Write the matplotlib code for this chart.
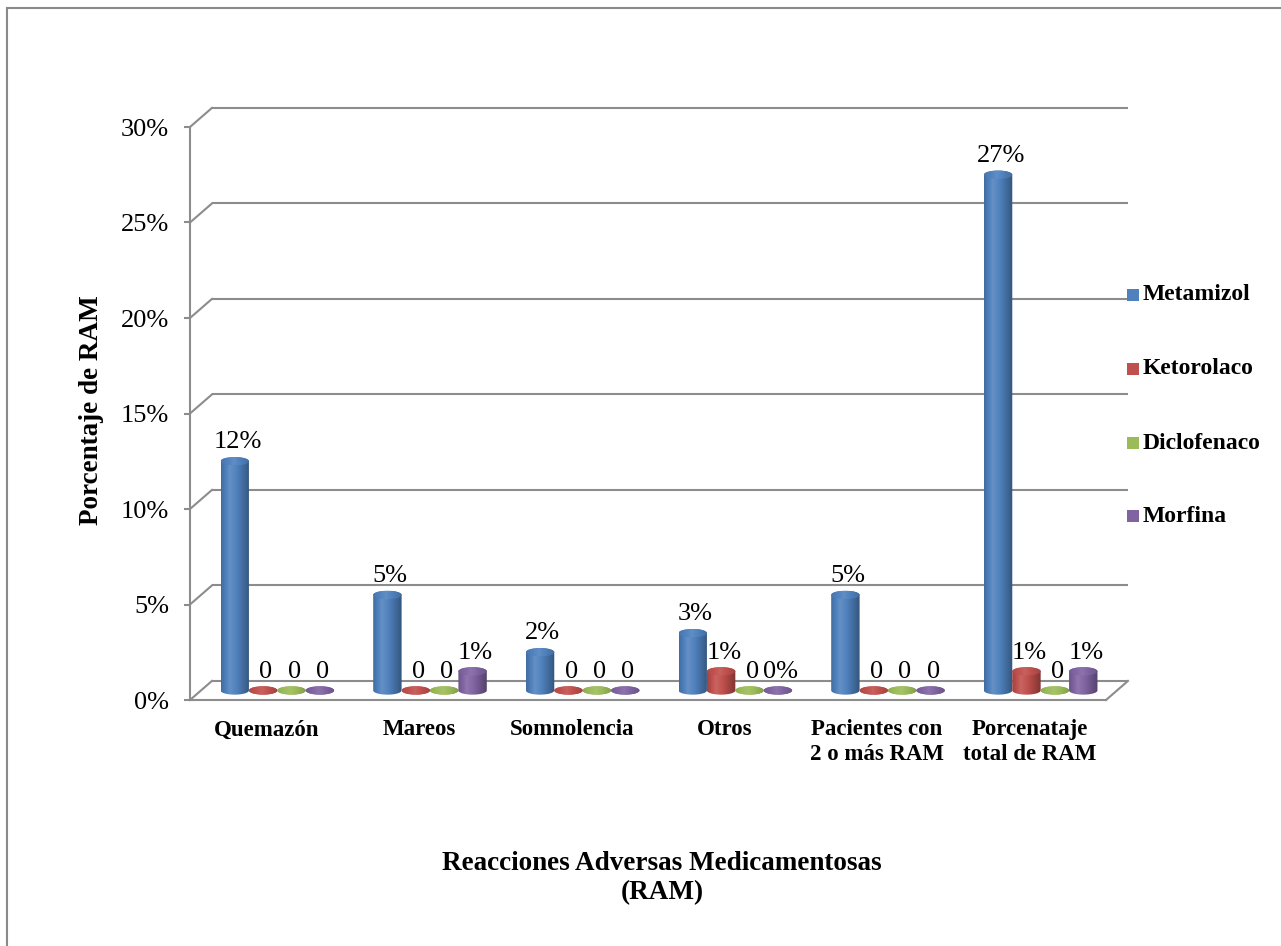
import numpy as np
import matplotlib
matplotlib.use("Agg")
import matplotlib.pyplot as plt
from matplotlib.patches import Ellipse, PathPatch, Rectangle
from matplotlib.path import Path
from matplotlib.colors import to_rgb

# ---- data -------------------------------------------------------------
categories = ["Quemazón", "Mareos", "Somnolencia", "Otros",
              "Pacientes con\n2 o más RAM", "Porcenataje\ntotal de RAM"]
series_names = ["Metamizol", "Ketorolaco", "Diclofenaco", "Morfina"]
metamizol = [12, 5, 2, 3, 5, 27]
ketorolaco = [0, 0, 0, 1, 0, 1]
diclofenaco = [0, 0, 0, 0, 0, 0]
morfina = [0, 1, 0, 0, 0, 1]
labels_metamizol = ["12%", "5%", "2%", "3%", "5%", "27%"]
labels_ketorolaco = ["0", "0", "0", "1%", "0", "1%"]
labels_diclofenaco = ["0", "0", "0", "0", "0", "0"]
labels_morfina = ["0", "1%", "0", "0%", "0", "1%"]
y_ticks = [0, 5, 10, 15, 20, 25, 30]
y_tick_labels = ["0%", "5%", "10%", "15%", "20%", "25%", "30%"]

series_values = [metamizol, ketorolaco, diclofenaco, morfina]
series_labels = [labels_metamizol, labels_ketorolaco, labels_diclofenaco, labels_morfina]
series_colors = ["#4F81BD", "#C0504D", "#9BBB59", "#8064A2"]

# ---- style ------------------------------------------------------------
W, H = 1281, 946
SERIF = ["Liberation Serif", "DejaVu Serif"]
plt.rcParams["font.family"] = SERIF
GRID = "#8c8c8c"

fig = plt.figure(figsize=(W / 100, H / 100), dpi=100)
# front plane of the 3-D plot area
ax = fig.add_axes([190 / W, 1 - 700 / H, (1106 - 190) / W, (700 - 127) / H])
ax.set_xlim(-0.5, len(categories) - 0.5)
ax.set_ylim(0, 30)
ax.patch.set_visible(False)

DX, DY = 0.144, 1.0          # depth of the 3-D box in data units
BW = 0.186                   # cylinder width
EH = 0.22                    # half height of the cylinder end ellipses
x_lo, x_hi = -0.5, len(categories) - 0.5

# back wall gridlines and left side-wall diagonals
for t in y_ticks:
    ax.plot([x_lo + DX, x_hi + DX], [t + DY, t + DY], color=GRID, lw=1.5,
            clip_on=False, zorder=1, solid_capstyle="butt")
    ax.plot([x_lo, x_lo + DX], [t, t + DY], color=GRID, lw=1.5,
            clip_on=False, zorder=1)
# floor right edge
ax.plot([x_hi, x_hi + DX], [0, DY], color=GRID, lw=1.5, clip_on=False, zorder=1)

for side in ["top", "right"]:
    ax.spines[side].set_visible(False)
for side in ["left", "bottom"]:
    ax.spines[side].set_color(GRID)
    ax.spines[side].set_linewidth(1.5)
    ax.spines[side].set_zorder(1)

ax.set_yticks(y_ticks)
ax.set_yticklabels(y_tick_labels, fontsize=19)
ax.tick_params(axis="y", direction="out", length=4, width=1.5, color=GRID, pad=11)
ax.set_xticks(range(len(categories)))
ax.set_xticklabels(categories, fontsize=16.5, fontweight="bold", linespacing=1.2)
ax.tick_params(axis="x", length=0, pad=14)


def shade(rgb, f):
    rgb = np.asarray(rgb)
    if f < 1:
        return rgb * f
    return rgb + (1 - rgb) * (f - 1)


def gradient(color, stops, levels, n=64):
    base = to_rgb(color)
    u = np.linspace(0, 1, n)
    f = np.interp(u, stops, levels)
    return np.array([[shade(base, v) for v in f]])


def cylinder(cx, value, color, z):
    base = DY / 2
    top = base + value
    x0, x1 = cx - BW / 2, cx + BW / 2
    th = np.linspace(np.pi, 2 * np.pi, 40)
    bottom = np.column_stack([cx + BW / 2 * np.cos(th), base + EH * np.sin(th)])
    th2 = np.linspace(0, np.pi, 40)
    upper = np.column_stack([cx + BW / 2 * np.cos(th2), top + EH * np.sin(th2)])
    verts = np.vstack([bottom, upper, bottom[:1]])
    body = PathPatch(Path(verts, closed=True), facecolor="none", edgecolor="none")
    ax.add_patch(body)
    img = ax.imshow(gradient(color, [0, 0.3, 0.55, 1], [0.84, 1.12, 1.0, 0.66]),
                    extent=[x0, x1, base - EH, top + EH], aspect="auto",
                    interpolation="bilinear", zorder=z)
    img.set_clip_path(body)
    cap = Ellipse((cx, top), BW, 2 * EH, facecolor="none", edgecolor="none")
    ax.add_patch(cap)
    img2 = ax.imshow(gradient(color, [0, 0.45, 1], [0.92, 1.1, 0.84]),
                     extent=[x0, x1, top - EH, top + EH], aspect="auto",
                     interpolation="bilinear", zorder=z + 0.1)
    img2.set_clip_path(cap)
    return top + EH


n_series = len(series_values)
for i in range(len(categories)):
    for j in range(n_series):
        cx = i + (j - (n_series - 1) / 2) * BW + DX / 2
        v = series_values[j][i]
        ytop = cylinder(cx, v, series_colors[j], 3 + j * 0.2 + i)
        ax.annotate(series_labels[j][i], (cx, ytop), xytext=(2, 10.5),
                    textcoords="offset points", ha="center", va="center",
                    fontsize=19, zorder=20, annotation_clip=False)

ax.set_xlim(x_lo, x_hi)
ax.set_ylim(0, 30)

# axis titles
fig.text(92 / W, 1 - 410 / H, "Porcentaje de RAM", rotation=90, ha="center",
         va="center", fontsize=19.5, fontweight="bold")
fig.text(662 / W, 1 - 878 / H, "Reacciones Adversas Medicamentosas\n(RAM)",
         ha="center", va="center", fontsize=19.5, fontweight="bold",
         linespacing=1.2)

# legend
legend_y = [295, 369, 443, 516]
for name, color, yy in zip(series_names, series_colors, legend_y):
    fig.patches.append(Rectangle(((1127) / W, 1 - (yy + 6) / H), 12 / W, 12 / H,
                                 transform=fig.transFigure, facecolor=color,
                                 edgecolor="none"))
    fig.text(1143 / W, 1 - yy / H, name, ha="left", va="center",
             fontsize=17, fontweight="bold")

# chart-area border
fig.patches.append(Rectangle((7 / W, -0.05), 1.1, 1.05 - 8.5 / H,
                             transform=fig.transFigure, facecolor="none",
                             edgecolor="#8a8a8a", lw=1.5))

fig.savefig("out.png", dpi=100, facecolor="white")
